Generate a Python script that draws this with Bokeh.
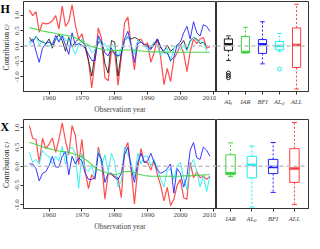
from math import pi
from bokeh.plotting import figure
from bokeh.models import Range1d, FixedTicker, PrintfTickFormatter, Span, ColumnDataSource
from bokeh.core.properties import value
from bokeh.layouts import column, row
from bokeh.embed import file_html
from bokeh.resources import INLINE

# ---------------- data ----------------
years = list(range(1954, 2010))

H_red = [1.17, 0.99, 1.12, 0.45, 0.76, 0.72, 0.74, 0.82, 0.99, 0.56, 1.30, 0.64, 0.79, 1.34, 0.69, 0.23,
         0.40, -0.07, -0.47, -1.36, -0.47, 0.59, 0.23, -1.03, -1.13, -0.17, -0.22, -1.28, -0.37, 0.76, 0.94, -0.02,
         -0.78, 0.18, 0.23, 0.03, 0.10, -0.53, -0.22, 0.23, -0.37, -1.26, -0.73, -1.16, -0.42, -0.22, 0.03, -0.22,
         -0.83, -0.17, 0.23, 0.08, 0.23, 0.28, -0.07, -0.02]
H_black = [0.28, 0.13, 0.31, 0.18, 0.13, 0.08, 0.23, -0.07, 0.23, 0.38, 0.18, -0.17, 0.28, -0.02, 0.13, 0.23,
           0.13, 0.03, -0.47, -0.98, -0.22, 0.13, 0.13, -0.58, -0.88, 0.18, 0.13, -0.98, -0.22, 0.18, 0.28, 0.23,
           0.28, 0.23, 0.13, 0.03, 0.03, -0.07, 0.03, 0.23, -0.07, -0.17, 0.03, -0.17, -0.07, 0.03, 0.03, 0.18,
           -0.12, 0.18, 0.28, 0.23, 0.08, 0.13, -0.02]
H_blue = [0.13, 0.23, -0.17, -0.53, -0.07, 0.08, 0.13, 0.03, 0.35, 0.13, 0.33, 0.03, -0.27, 0.43, 0.03, 0.08,
          0.03, -0.07, -0.27, -0.47, -0.47, 0.33, 0.13, -0.22, -0.32, -0.07, -0.27, -0.32, -0.27, 0.23, 0.48, 0.03,
          -0.53, 0.08, 0.13, 0.03, -0.02, -0.12, 0.08, 0.23, -0.02, -0.22, -0.22, -0.47, -0.37, 0.03, 0.13, 0.43,
          0.64, 0.23, 0.79, 0.43, 0.33, 0.69, 0.64, 0.48]
H_cyan = [0.03, 0.18, 0.33, 0.03, 0.18, 0.03, -0.02, 0.13, 0.23, 0.18, 0.38, 0.18, 0.23, -0.02, -0.27, 0.03,
          0.23, -0.02, 0.03, -0.22, -0.12, 0.28, 0.03, 0.08, -0.12, 0.03, -0.02, -0.37, -0.07, 0.18, 0.33, 0.03,
          -0.27, 0.18, 0.13, 0.03, -0.12, -0.02, 0.13, 0.03, -0.32, -0.17, -0.07, -0.53, -0.07, 0.03, -0.12, 0.03,
          -0.17, 0.13, 0.28, 0.18, 0.13, 0.13, -0.17]
H_green = [0.60, 0.58, 0.55, 0.52, 0.49, 0.47, 0.45, 0.43, 0.41, 0.39, 0.37, 0.35, 0.33, 0.31, 0.27, 0.21,
           0.14, 0.08, 0.03, -0.02, -0.05, -0.08, -0.10, -0.12, -0.13, -0.14, -0.15, -0.15, -0.14, -0.13, -0.13, -0.13,
           -0.14, -0.15, -0.16, -0.17, -0.18, -0.19, -0.19, -0.19, -0.19, -0.19, -0.20, -0.20, -0.20, -0.20, -0.20, -0.20,
           -0.20, -0.20, -0.20, -0.20, -0.20, -0.20, -0.20, -0.20]

X_red = [1.06, 0.73, 0.70, 0.10, 0.73, 0.46, 0.58, 0.74, 0.36, 0.70, 1.13, 0.66, 0.30, 1.06, 0.81, 0.04,
         0.70, -0.14, -0.58, -0.22, -0.34, 0.50, 0.10, -0.86, -0.18, -0.22, -0.26, -0.30, -0.82, 0.42, 0.62, -0.10,
         -0.98, -0.06, 0.46, 0.10, 0.10, -0.10, 0.15, -0.22, -0.50, -0.90, -0.55, -1.02, -0.86, -0.50, -0.34, -0.82,
         -0.86, 0.10, -0.30, -0.14, -0.30, -0.26, -0.34, -0.26]
X_blue = [0.06, 0.06, -0.06, -0.38, -0.18, -0.14, 0.02, 0.26, -0.02, -0.02, 0.26, 0.38, -0.22, 0.26, 0.06, 0.22,
          0.14, -0.18, -0.34, -0.34, -0.30, 0.34, 0.18, -0.42, -0.18, -0.18, -0.30, -0.34, -0.18, 0.30, 0.50, -0.06,
          -0.42, 0.10, 0.34, 0.10, 0.14, 0.34, 0.10, -0.10, -0.18, -0.14, -0.06, 0.06, -0.70, -0.06, -0.18, -0.54,
          -0.26, 0.42, 0.62, 0.22, 0.18, 0.50, 0.42, 0.26]
X_cyan = [0.36, 0.10, 0.18, 0.06, 0.42, 0.30, 0.26, 0.06, 0.26, 0.14, 0.52, 0.06, 0.42, 0.50, 0.34, -0.58,
          0.34, -0.06, -0.14, 0.02, -0.30, 0.42, 0.02, 0.30, -0.14, 0.34, 0.10, -0.54, -0.38, 0.50, 0.30, 0.10,
          -0.30, 0.34, 0.06, 0.26, 0.26, 0.02, 0.18, -0.06, -0.34, -0.54, -0.10, -0.06, -0.34, 0.02, 0.10, -0.30,
          -0.62, 0.02, 0.18, -0.14, -0.54, -0.26, -0.66, -0.26]
X_green = [0.62, 0.60, 0.57, 0.54, 0.51, 0.48, 0.46, 0.44, 0.42, 0.40, 0.39, 0.38, 0.36, 0.34, 0.31, 0.28,
           0.24, 0.18, 0.12, 0.04, -0.04, -0.09, -0.12, -0.15, -0.18, -0.20, -0.22, -0.20, -0.17, -0.14, -0.13, -0.14,
           -0.17, -0.20, -0.22, -0.24, -0.25, -0.26, -0.26, -0.26, -0.26, -0.26, -0.26, -0.26, -0.26, -0.26, -0.26, -0.25,
           -0.25, -0.25, -0.24, -0.24, -0.23, -0.23, -0.22, -0.22]

year_ticks = [1960, 1970, 1980, 1990, 2000, 2010]
y_ticks = [-1.0, -0.5, 0.0, 0.5, 1.0]
y_title = "Contribution  c\u1d62\u02b2"
x_title = "Observation year"

# box-plot statistics
H_labels = ["AI\u2096", "IAR", "BFI", "AI\u2091\u209a", "ALL"]
H_q1 = [-0.14, -0.22, -0.24, -0.12, -0.70]
H_med = [0.06, -0.19, 0.06, 0.00, 0.03]
H_q3 = [0.23, 0.31, 0.21, 0.15, 0.59]
H_lo = [-0.47, -0.22, -0.58, -0.17, -1.40]
H_hi = [0.33, 0.61, 0.79, 0.41, 1.36]
H_out_box = [1, 1, 1, 4]
H_out_val = [-0.88, -0.96, -1.03, -0.75]

X_labels = ["IAR", "AI\u2091\u209a", "BFI", "ALL"]
X_q1 = [-0.22, -0.30, -0.19, -0.42]
X_med = [-0.18, 0.04, -0.02, -0.06]
X_q3 = [0.30, 0.26, 0.18, 0.46]
X_lo = [-0.27, -1.06, -0.68, -1.00]
X_hi = [0.61, 0.53, 0.62, 1.14]

# ---------------- style ----------------
RED = "#ff3b3b"
BLACK = "#202020"
BLUE = "#2222ff"
CYAN = "#22eeee"
GREEN = "#3fd23f"
FONT = "Liberation Serif"
H_colors = [BLACK, GREEN, BLUE, CYAN, RED]
X_colors = [GREEN, CYAN, BLUE, RED]
LEFT_B = 13


def style_axes(p):
    for ax in p.axis:
        ax.major_label_text_font = FONT
        ax.major_label_text_font_size = "7px"
        ax.axis_label_text_font = FONT
        ax.axis_label_text_font_size = "7.5px"
        ax.axis_label_text_font_style = "normal"
        ax.major_tick_in = 0
        ax.major_tick_out = 3
        ax.minor_tick_out = 0
        ax.minor_tick_in = 0
        ax.major_label_standoff = 1
        ax.axis_label_standoff = 2
        ax.axis_line_color = "#333333"
        ax.major_tick_line_color = "#333333"
    p.xgrid.visible = False
    p.ygrid.visible = False
    p.outline_line_color = "#333333"
    p.outline_line_width = 1
    p.background_fill_color = "white"
    p.border_fill_color = "white"


def letter_panel(yr, letter, h, top_b, bot_b):
    p = figure(width=10, height=h, output_backend="svg", toolbar_location=None,
               x_range=Range1d(0, 1), y_range=yr, x_axis_location=None, y_axis_location=None,
               min_border_left=0, min_border_right=0, min_border_top=top_b, min_border_bottom=bot_b)
    p.xgrid.visible = False
    p.ygrid.visible = False
    p.outline_line_color = None
    p.text(x=[0], y=[yr.end], text=[letter], text_font=value(FONT), text_font_size="12px",
           text_font_style="bold", text_baseline="top", text_align="left", text_color="black")
    p.text(x=[0.55], y=[(yr.start + yr.end) / 2], text=[y_title], angle=pi / 2,
           text_font=value(FONT), text_font_size="7.5px", text_baseline="middle",
           text_align="center", text_color="#222222")
    return p


def line_panel(yr, series, h, top_b, bot_b):
    p = figure(width=206, height=h, output_backend="svg", toolbar_location=None,
               x_range=Range1d(1952.2, 2011.0), y_range=yr,
               min_border_left=LEFT_B, min_border_right=0, min_border_top=top_b, min_border_bottom=bot_b)
    p.xaxis.ticker = FixedTicker(ticks=year_ticks)
    p.yaxis.ticker = FixedTicker(ticks=y_ticks)
    p.yaxis.formatter = PrintfTickFormatter(format="%.1f")
    p.yaxis.major_label_orientation = "vertical"
    p.xaxis.axis_label = x_title
    style_axes(p)
    p.add_layout(Span(location=0, dimension="width", line_color="#c0c0c0",
                      line_dash="4 3", line_width=1.5))
    for vals, col, w in series:
        p.line(years[:len(vals)], vals, line_color=col, line_width=w, line_alpha=0.9)
    return p


def box_panel(yr, labels, colors, q1, med, q3, lo, hi, out_box, out_val, h, top_b, bot_b, hw):
    n = len(labels)
    xs = list(range(1, n + 1))
    ext = 0.04 * n
    p = figure(width=93, height=h, output_backend="svg", toolbar_location=None,
               x_range=Range1d(0.5 - ext, n + 0.5 + ext), y_range=yr,
               min_border_left=0, min_border_right=1, min_border_top=top_b, min_border_bottom=bot_b,
               y_axis_location=None)
    p.xaxis.ticker = FixedTicker(ticks=xs)
    p.xaxis.major_label_overrides = {i + 1: lab for i, lab in enumerate(labels)}
    style_axes(p)
    p.xaxis.major_label_text_font_style = "italic"
    p.xaxis.major_label_text_font_size = "6.5px"
    p.xaxis.major_label_standoff = 3
    p.add_layout(Span(location=0, dimension="width", line_color="#c0c0c0",
                      line_dash="4 3", line_width=1.5))
    src = ColumnDataSource(dict(
        x=xs, q1=q1, med=med, q3=q3, lo=lo, hi=hi, c=colors,
        l=[x - hw for x in xs], r=[x + hw for x in xs],
        sl=[x - hw * 0.55 for x in xs], sr=[x + hw * 0.55 for x in xs]))
    p.segment(x0="x", y0="q3", x1="x", y1="hi", line_color="c", line_dash="2 2", line_width=1, source=src)
    p.segment(x0="x", y0="q1", x1="x", y1="lo", line_color="c", line_dash="2 2", line_width=1, source=src)
    p.segment(x0="sl", y0="hi", x1="sr", y1="hi", line_color="c", line_width=1, source=src)
    p.segment(x0="sl", y0="lo", x1="sr", y1="lo", line_color="c", line_width=1, source=src)
    p.quad(left="l", right="r", bottom="q1", top="q3", fill_color="white", line_color="c",
           line_width=1, source=src)
    p.segment(x0="l", y0="med", x1="r", y1="med", line_color="c", line_width=2.5, source=src)
    if out_box:
        p.scatter([xs[i - 1] for i in out_box], out_val, marker="circle", size=4,
                  fill_color=None, line_color=[colors[i - 1] for i in out_box], line_width=1)
    return p


yr_H = Range1d(-1.48, 1.45)
yr_X = Range1d(-1.10, 1.22)

p0 = letter_panel(yr_H, "H", 116, 1, 22)
p1 = line_panel(yr_H, [(H_red, RED, 1.2), (H_black, BLACK, 1.0), (H_cyan, CYAN, 1.0),
                       (H_blue, BLUE, 1.0), (H_green, GREEN, 1.1)], 116, 1, 22)
p2 = box_panel(yr_H, H_labels, H_colors, H_q1, H_med, H_q3, H_lo, H_hi, H_out_box, H_out_val,
               116, 1, 22, 0.24)
p3a = letter_panel(yr_X, "X", 117, 3, 22)
p3 = line_panel(yr_X, [(X_red, RED, 1.2), (X_cyan, CYAN, 1.0), (X_blue, BLUE, 1.0),
                       (X_green, GREEN, 1.1)], 117, 3, 22)
p4 = box_panel(yr_X, X_labels, X_colors, X_q1, X_med, X_q3, X_lo, X_hi, [], [],
               117, 3, 22, 0.22)

layout = column(row(p0, p1, p2), row(p3a, p3, p4))
open("out.html", "w").write(file_html(layout, INLINE))
